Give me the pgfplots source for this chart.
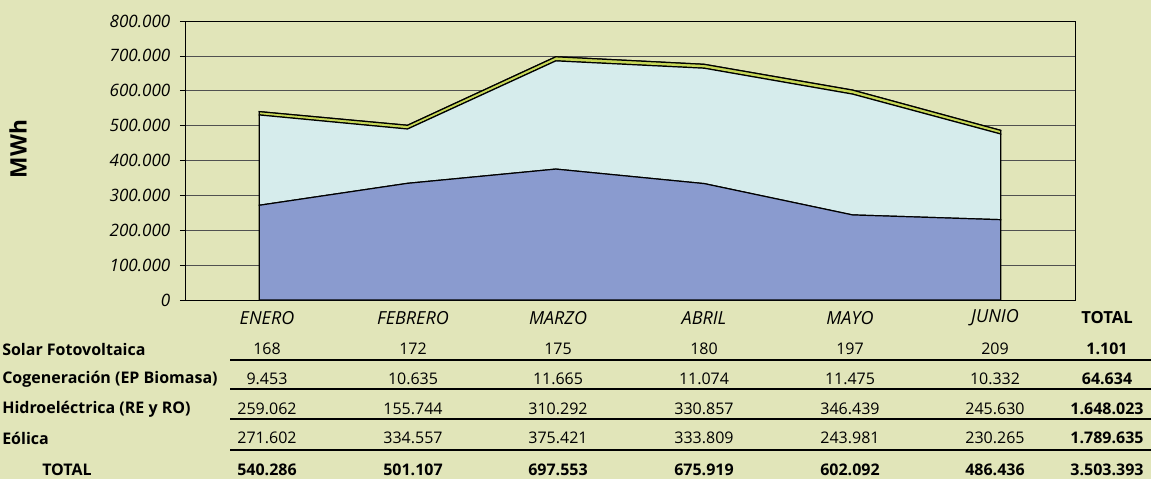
\documentclass[border=0pt]{standalone}
\usepackage{fontspec}
\setmainfont{Open Sans}
\usepackage{pgfplots}
\usepackage{pgfplotstable}
\pgfplotsset{compat=1.18}

\definecolor{fondo}{HTML}{E1E5B9}
\definecolor{eolica}{HTML}{8A9BCF}
\definecolor{hidro}{HTML}{D6ECEC}
\definecolor{cogen}{HTML}{C8D858}
\definecolor{solar}{HTML}{EEE070}
\definecolor{rejilla}{HTML}{505050}

\newcommand\tabfont{\fontsize{12}{14}\selectfont}
\newcommand\mesfont{\fontsize{13.5}{15}\selectfont\itshape}

% MWh por mes (ENERO..JUNIO = 0..5)
\pgfplotstableread{
x eolica hidro  cogen solar
0 271602 259062 9453  168
1 334557 155744 10635 172
2 375421 310292 11665 175
3 333809 330857 11074 180
4 243981 346439 11475 197
5 230265 245630 10332 209
}\datos

\begin{document}
\begin{tikzpicture}[font=\tabfont]
\fill[fondo] (-138.75pt,-134.25pt) rectangle (724.5pt,225pt);
\begin{axis}[
  at={(0,0)}, anchor=south west,
  scale only axis, width=667.5pt, height=209.25pt,
  xmin=-0.5, xmax=5.5, ymin=0, ymax=800000,
  xtick=\empty,
  ytick={0,100000,200000,300000,400000,500000,600000,700000,800000},
  ymajorgrids, grid style={rejilla, line width=0.5pt},
  axis line style={black, line width=0.7pt},
  ytick pos=left, tick align=outside, major tick length=3.75pt,
  tick style={black, line width=0.5pt},
  scaled y ticks=false,
  yticklabel style={font=\fontsize{12.8}{14}\selectfont\itshape, xshift=-3.75pt,
    /pgf/number format/fixed, /pgf/number format/1000 sep={.},
    /pgf/number format/assume math mode=true},
  ylabel={MWh},
  ylabel style={at={(axis description cs:-0.1876,0.541)}, anchor=center,
    font=\fontsize{17}{19}\selectfont\bfseries},
  stack plots=y,
]
\addplot[fill=eolica, draw=black, line width=0.9pt] table[x=x, y=eolica] {\datos} \closedcycle;
\addplot[fill=hidro, draw=black, line width=0.9pt] table[x=x, y=hidro] {\datos} \closedcycle;
\addplot[fill=cogen, draw=black, line width=0.9pt] table[x=x, y=cogen] {\datos} \closedcycle;
\addplot[fill=solar, draw=black, line width=0.9pt] table[x=x, y=solar] {\datos} \closedcycle;
\end{axis}

% tabla de datos bajo el grafico (coordenadas en pixeles de la imagen)
\begin{scope}[shift={(-138.75pt,225pt)}, x=0.75pt, y=-0.75pt,
  every node/.style={inner sep=0pt, font=\tabfont}]
  \foreach \yy in {360,389,419,450}
    \draw[black, line width=1pt] (230,\yy) -- (1160,\yy);
  \node[font=\mesfont] at (267,318) {ENERO};
  \node[font=\mesfont] at (413,318) {FEBRERO};
  \node[font=\mesfont] at (558,318) {MARZO};
  \node[font=\mesfont] at (704,318) {ABRIL};
  \node[font=\mesfont] at (850,318) {MAYO};
  \node[font=\mesfont] at (995,318) {JUNIO};
  \node[font=\fontsize{12.5}{14}\selectfont\bfseries] at (1107,318) {TOTAL};

  \node[anchor=west, font=\tabfont\bfseries] at (2,349) {Solar Fotovoltaica};
  \node[anchor=west, font=\tabfont\bfseries] at (2,379) {Cogeneración (EP Biomasa)};
  \node[anchor=west, font=\tabfont\bfseries] at (2,409) {Hidroeléctrica (RE y RO)};
  \node[anchor=west, font=\tabfont\bfseries] at (2,438) {Eólica};
  \node[font=\tabfont\bfseries] at (67,470) {TOTAL};

  \foreach \cx/\a/\b/\c/\d/\t in {
      267/168/9.453/259.062/271.602/540.286,
      413/172/10.635/155.744/334.557/501.107,
      558/175/11.665/310.292/375.421/697.553,
      704/180/11.074/330.857/333.809/675.919,
      850/197/11.475/346.439/243.981/602.092,
      995/209/10.332/245.630/230.265/486.436} {
    \node at (\cx,349) {\a};
    \node at (\cx,379) {\b};
    \node at (\cx,409) {\c};
    \node at (\cx,438) {\d};
    \node[font=\tabfont\bfseries] at (\cx,470) {\t};
  }
  \node[font=\tabfont\bfseries] at (1107,349) {1.101};
  \node[font=\tabfont\bfseries] at (1107,379) {64.634};
  \node[font=\tabfont\bfseries] at (1107,409) {1.648.023};
  \node[font=\tabfont\bfseries] at (1107,438) {1.789.635};
  \node[font=\tabfont\bfseries] at (1107,470) {3.503.393};
\end{scope}

\pgfresetboundingbox
\path[use as bounding box] (-138.75pt,-134.25pt) rectangle (724.5pt,225pt);
\end{tikzpicture}
\end{document}
